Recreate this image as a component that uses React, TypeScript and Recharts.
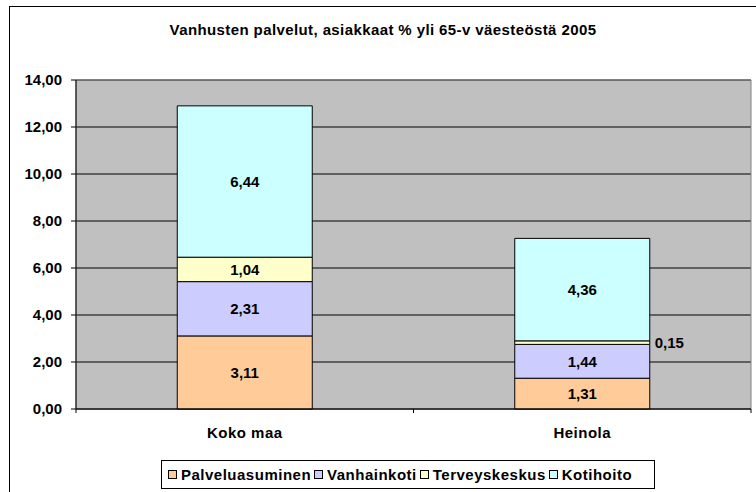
import { BarChart, Bar, XAxis, YAxis, CartesianGrid, Legend, LabelList, ReferenceArea } from "recharts";

const categories = ["Koko maa", "Heinola"];
const palveluasuminen = [3.11, 1.31];
const vanhainkoti = [2.31, 1.44];
const terveyskeskus = [1.04, 0.15];
const kotihoito = [6.44, 4.36];
const yTicks = [0, 2, 4, 6, 8, 10, 12, 14];

const series = [
  { key: "Palveluasuminen", values: palveluasuminen, color: "#FFCC99" },
  { key: "Vanhainkoti", values: vanhainkoti, color: "#CCCCFF" },
  { key: "Terveyskeskus", values: terveyskeskus, color: "#FFFFCC" },
  { key: "Kotihoito", values: kotihoito, color: "#CCFFFF" },
];

const data = categories.map((name, i) => {
  const row: any = { name };
  series.forEach((s) => (row[s.key] = s.values[i]));
  return row;
});

const FONT = "'Liberation Sans', Arial, sans-serif";
const W = 756;
const H = 492;
const PLOT_LEFT = 76;
const PLOT_RIGHT = 751;
const BAND = (PLOT_RIGHT - PLOT_LEFT) / categories.length;
const TICK = 5;

const fmt = (v: number) => v.toFixed(2).replace(".", ",");

const CategoryTick = (props: any) => {
  const { x, y, payload } = props;
  const top = y - TICK;
  return (
    <g>
      <line x1={x - BAND / 2} y1={top} x2={x - BAND / 2} y2={top + 4} stroke="#000" />
      <line x1={x + BAND / 2} y1={top} x2={x + BAND / 2} y2={top + 4} stroke="#000" />
      <text x={x} y={top + 29} textAnchor="middle" fontFamily={FONT} fontWeight="bold" fontSize={15} letterSpacing={0.5} fill="#000">
        {payload.value}
      </text>
    </g>
  );
};

const renderValue = (props: any) => {
  const { x, y, width, height, value } = props;
  const small = value < 0.5;
  return (
    <text
      x={small ? x + width + 5 : x + width / 2}
      y={y + height / 2}
      textAnchor={small ? "start" : "middle"}
      dominantBaseline="central"
      fontFamily={FONT}
      fontWeight="bold"
      fontSize={15}
      fill="#000"
    >
      {fmt(value)}
    </text>
  );
};

const renderLegend = () => (
  <div
    style={{
      border: "1px solid #000",
      background: "#fff",
      height: 29,
      boxSizing: "border-box",
      display: "flex",
      alignItems: "center",
      paddingLeft: 6,
      fontFamily: FONT,
      fontWeight: "bold",
      fontSize: 15,
      letterSpacing: 0.5,
      whiteSpace: "nowrap",
    }}
  >
    {series.map((s) => (
      <span key={s.key} style={{ display: "flex", alignItems: "center", marginRight: 3 }}>
        <span style={{ width: 9, height: 9, border: "1px solid #000", background: s.color, marginRight: 4, boxSizing: "border-box" }} />
        {s.key}
      </span>
    ))}
  </div>
);

export default function App() {
  return (
    <div style={{ position: "fixed", left: 0, top: 0, width: W, height: H, overflow: "hidden", background: "#fff" }}>
      <div style={{ position: "absolute", left: 9, top: 6, width: 800, height: 600, border: "1px solid #000" }} />
      <div
        style={{
          position: "absolute",
          left: 9,
          width: 748,
          top: 21,
          textAlign: "center",
          fontFamily: FONT,
          fontWeight: "bold",
          fontSize: 15,
          letterSpacing: 0.4,
          lineHeight: "18px",
        }}
      >
        Vanhusten palvelut, asiakkaat % yli 65-v väesteöstä 2005
      </div>
      <div style={{ position: "absolute", left: 0, top: 0 }}>
        <BarChart width={W} height={H} data={data} margin={{ top: 80, right: W - PLOT_RIGHT, left: 0, bottom: 43 }} barCategoryGap="30%">
          <CartesianGrid vertical={false} stroke="#000" fill="#C0C0C0" fillOpacity={1} />
          <ReferenceArea y1={0} y2={14} fill="none" stroke="#808080" ifOverflow="visible" />
          <XAxis dataKey="name" height={40} axisLine={{ stroke: "#000" }} tickLine={false} tickSize={TICK} tickMargin={0} tick={<CategoryTick />} interval={0} />
          <YAxis
            width={PLOT_LEFT}
            domain={[0, 14]}
            ticks={yTicks}
            tickFormatter={fmt}
            axisLine={{ stroke: "#000" }}
            tickLine={{ stroke: "#000" }}
            tickSize={5}
            tickMargin={9}
            tick={{ fill: "#000", fontFamily: FONT, fontWeight: "bold", fontSize: 15 }}
          />
          {series.map((s) => (
            <Bar key={s.key} dataKey={s.key} stackId="a" fill={s.color} stroke="#000" strokeWidth={1} isAnimationActive={false}>
              <LabelList dataKey={s.key} content={renderValue} />
            </Bar>
          ))}
          <Legend layout="horizontal" verticalAlign="middle" align="center" wrapperStyle={{ left: 161, top: 460, width: 494 }} content={renderLegend} />
        </BarChart>
      </div>
    </div>
  );
}
